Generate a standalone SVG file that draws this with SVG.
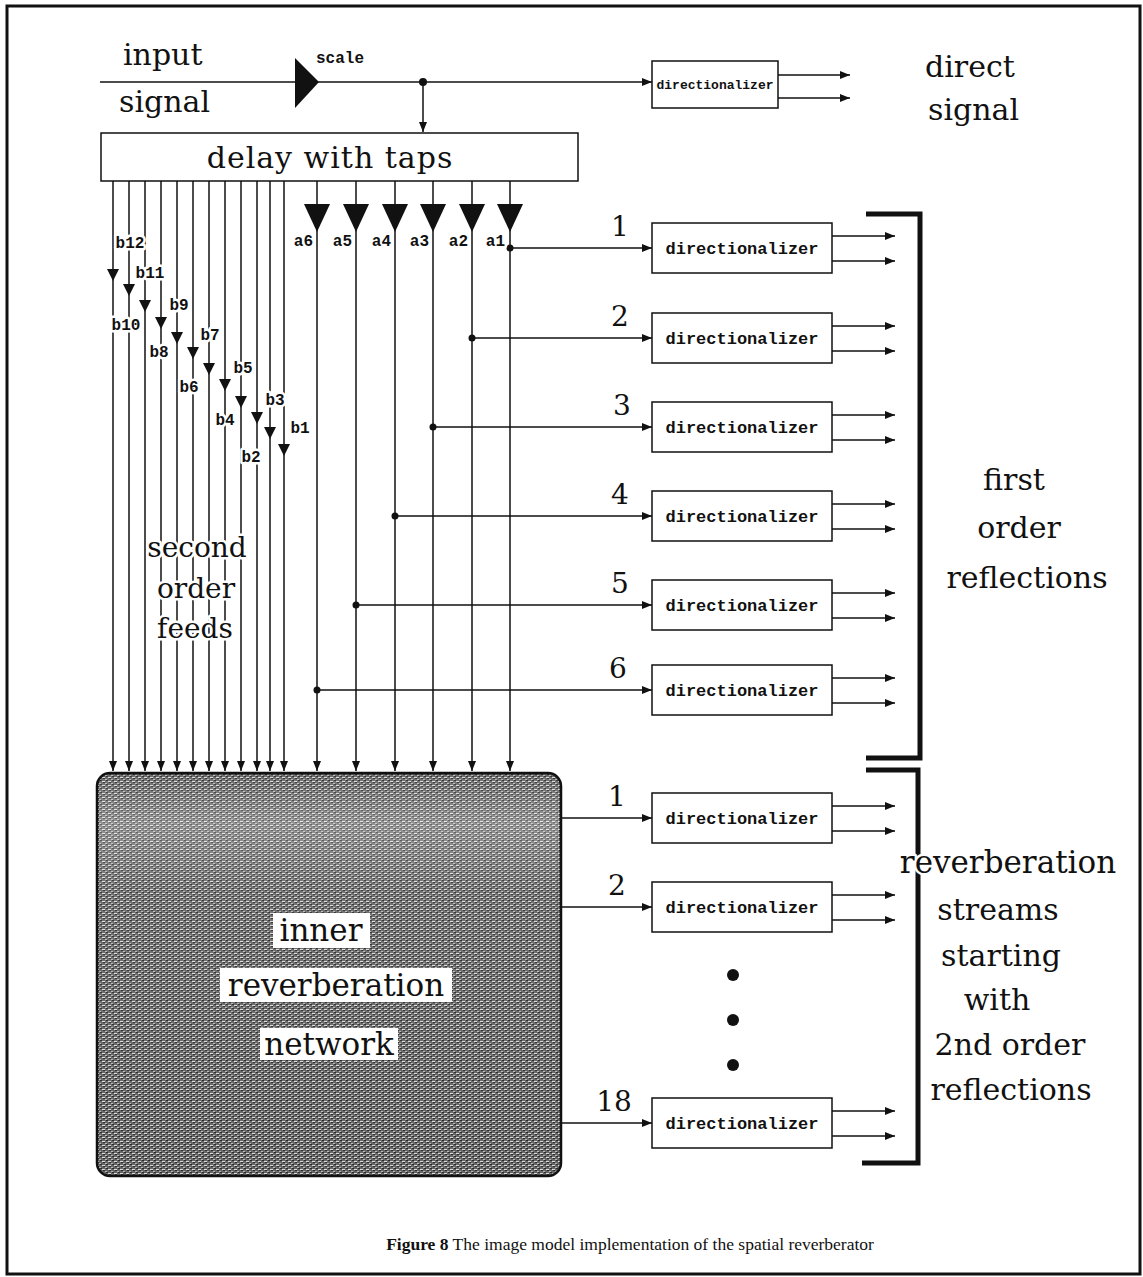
<svg xmlns="http://www.w3.org/2000/svg" width="1143" height="1277" viewBox="0 0 1143 1277">
<style>
.ln{stroke:#111;stroke-width:1.5;fill:none}
.arr{marker-end:url(#ah)}
.box{fill:#fff;stroke:#111;stroke-width:1.5}
.br{stroke:#111;stroke-width:5;fill:none}
.tri{fill:#111}
.serif{font-family:"DejaVu Serif",serif;font-size:30px;fill:#111}
.mid{text-anchor:middle}
.mono{font-family:"Liberation Mono",monospace;font-weight:bold;font-size:16px;fill:#111}
.dir{font-family:"Liberation Mono",monospace;font-weight:bold;font-size:17px;fill:#111;text-anchor:middle}
.halo{paint-order:stroke;stroke:#fff;stroke-width:5;stroke-linejoin:round}
.cap{font-family:"Liberation Serif",serif;font-size:17.5px;fill:#111;text-anchor:middle}
</style>
<defs>
<marker id="ah" viewBox="0 0 10 8" refX="10" refY="4" markerWidth="10" markerHeight="8" markerUnits="userSpaceOnUse" orient="auto"><path d="M0,0 L10,4 L0,8 Z" fill="#111"/></marker>
<pattern id="ht" width="6" height="4" patternUnits="userSpaceOnUse">
<rect width="6" height="4" fill="#666"/>
<rect x="0" y="1" width="3" height="1" fill="#dcdcdc"/>
<rect x="3" y="3" width="2" height="1" fill="#b8b8b8"/>
<rect x="4" y="0" width="2" height="1" fill="#2a2a2a"/>
<rect x="1" y="2" width="2" height="1" fill="#2a2a2a"/>
</pattern>
<linearGradient id="lg" x1="0" y1="0" x2="0" y2="1">
<stop offset="0" stop-color="#fff" stop-opacity="0.05"/>
<stop offset="0.12" stop-color="#fff" stop-opacity="0.3"/>
<stop offset="0.3" stop-color="#fff" stop-opacity="0.08"/>
<stop offset="1" stop-color="#fff" stop-opacity="0"/>
</linearGradient>
</defs>
<rect x="7" y="6" width="1133" height="1268" fill="#fff" stroke="#111" stroke-width="3"/>

<g id="connectors">
<path class="ln" d="M100,82 H296"/>
<path class="ln arr" d="M318,82 H652"/>
<path class="ln arr" d="M423,82 V132"/>
<path class="ln arr" d="M778,75 H850"/>
<path class="ln arr" d="M778,98 H850"/>
<path class="ln arr" d="M113,181 V771"/>
<path class="ln arr" d="M129,181 V771"/>
<path class="ln arr" d="M145,181 V771"/>
<path class="ln arr" d="M161,181 V771"/>
<path class="ln arr" d="M177,181 V771"/>
<path class="ln arr" d="M193,181 V771"/>
<path class="ln arr" d="M209,181 V771"/>
<path class="ln arr" d="M225,181 V771"/>
<path class="ln arr" d="M241,181 V771"/>
<path class="ln arr" d="M257,181 V771"/>
<path class="ln arr" d="M270,181 V771"/>
<path class="ln arr" d="M284,181 V771"/>
<path class="ln arr" d="M317,181 V771"/>
<path class="ln arr" d="M356,181 V771"/>
<path class="ln arr" d="M395,181 V771"/>
<path class="ln arr" d="M433,181 V771"/>
<path class="ln arr" d="M472,181 V771"/>
<path class="ln arr" d="M510,181 V771"/>
<path class="ln arr" d="M510,248 H652"/>
<path class="ln arr" d="M472,338 H652"/>
<path class="ln arr" d="M433,427 H652"/>
<path class="ln arr" d="M395,516 H652"/>
<path class="ln arr" d="M356,605 H652"/>
<path class="ln arr" d="M317,690 H652"/>
<path class="ln arr" d="M560,818 H652"/>
<path class="ln arr" d="M560,907 H652"/>
<path class="ln arr" d="M560,1123 H652"/>
<path class="ln arr" d="M832,236 H895"/>
<path class="ln arr" d="M832,261 H895"/>
<path class="ln arr" d="M832,326 H895"/>
<path class="ln arr" d="M832,351 H895"/>
<path class="ln arr" d="M832,415 H895"/>
<path class="ln arr" d="M832,440 H895"/>
<path class="ln arr" d="M832,504 H895"/>
<path class="ln arr" d="M832,529 H895"/>
<path class="ln arr" d="M832,593 H895"/>
<path class="ln arr" d="M832,618 H895"/>
<path class="ln arr" d="M832,678 H895"/>
<path class="ln arr" d="M832,703 H895"/>
<path class="ln arr" d="M832,806 H895"/>
<path class="ln arr" d="M832,831 H895"/>
<path class="ln arr" d="M832,895 H895"/>
<path class="ln arr" d="M832,920 H895"/>
<path class="ln arr" d="M832,1111 H895"/>
<path class="ln arr" d="M832,1136 H895"/>
<circle cx="423" cy="82" r="4" fill="#111"/>
<circle cx="510" cy="248" r="3.5" fill="#111"/>
<circle cx="472" cy="338" r="3.5" fill="#111"/>
<circle cx="433" cy="427" r="3.5" fill="#111"/>
<circle cx="395" cy="516" r="3.5" fill="#111"/>
<circle cx="356" cy="605" r="3.5" fill="#111"/>
<circle cx="317" cy="690" r="3.5" fill="#111"/>
</g>

<g id="input-label">
<text class="serif" x="123" y="65">input</text>
<text class="serif" x="119" y="112">signal</text>
</g>
<g id="scale">
<path class="tri" d="M295,58 L319,82 L295,108 Z"/>
<text class="mono" x="316" y="63">scale</text>
</g>
<g id="delay">
<rect class="box" x="101" y="133" width="477" height="48"/>
<text class="serif mid" x="330" y="168" letter-spacing="1">delay with taps</text>
</g>
<g id="dir-direct">
<rect class="box" x="652" y="61" width="126" height="47"/>
<text class="dir" x="715" y="89" style="font-size:13px">directionalizer</text>
</g>
<g id="direct-label">
<text class="serif" x="925" y="77">direct</text>
<text class="serif" x="928" y="120">signal</text>
</g>

<g id="gains-a">
<path class="tri" d="M304,204 H330 L317,232 Z"/>
<path class="tri" d="M343,204 H369 L356,232 Z"/>
<path class="tri" d="M382,204 H408 L395,232 Z"/>
<path class="tri" d="M420,204 H446 L433,232 Z"/>
<path class="tri" d="M459,204 H485 L472,232 Z"/>
<path class="tri" d="M497,204 H523 L510,232 Z"/>
<text class="mono halo" x="313" y="246" text-anchor="end">a6</text>
<text class="mono halo" x="352" y="246" text-anchor="end">a5</text>
<text class="mono halo" x="391" y="246" text-anchor="end">a4</text>
<text class="mono halo" x="429" y="246" text-anchor="end">a3</text>
<text class="mono halo" x="468" y="246" text-anchor="end">a2</text>
<text class="mono halo" x="505" y="246" text-anchor="end">a1</text>
</g>

<g id="gains-b">
<path class="tri" d="M107,269 H119 L113,281 Z"/>
<path class="tri" d="M123,284 H135 L129,296 Z"/>
<path class="tri" d="M139,300 H151 L145,312 Z"/>
<path class="tri" d="M155,317 H167 L161,329 Z"/>
<path class="tri" d="M171,332 H183 L177,344 Z"/>
<path class="tri" d="M187,347 H199 L193,359 Z"/>
<path class="tri" d="M203,363 H215 L209,375 Z"/>
<path class="tri" d="M219,379 H231 L225,391 Z"/>
<path class="tri" d="M235,396 H247 L241,408 Z"/>
<path class="tri" d="M251,412 H263 L257,424 Z"/>
<path class="tri" d="M264,427 H276 L270,439 Z"/>
<path class="tri" d="M278,444 H290 L284,456 Z"/>
<text class="mono halo mid" x="130" y="248">b12</text>
<text class="mono halo mid" x="150" y="278">b11</text>
<text class="mono halo mid" x="126" y="330">b10</text>
<text class="mono halo mid" x="179" y="310">b9</text>
<text class="mono halo mid" x="159" y="357">b8</text>
<text class="mono halo mid" x="210" y="340">b7</text>
<text class="mono halo mid" x="189" y="392">b6</text>
<text class="mono halo mid" x="243" y="373">b5</text>
<text class="mono halo mid" x="225" y="425">b4</text>
<text class="mono halo mid" x="275" y="405">b3</text>
<text class="mono halo mid" x="251" y="462">b2</text>
<text class="mono halo mid" x="300" y="433">b1</text>
</g>

<g id="second-order-label">
<text class="serif mid halo" x="197" y="557" style="font-size:28px">second</text>
<text class="serif mid halo" x="196" y="598" style="font-size:28px">order</text>
<text class="serif mid halo" x="195" y="638" style="font-size:28px">feeds</text>
</g>

<g id="first-order">
<text class="serif mid" x="620" y="236" style="font-size:28px">1</text>
<rect class="box" x="652" y="223" width="180" height="50"/>
<text class="dir" x="742" y="254">directionalizer</text>
<text class="serif mid" x="620" y="326" style="font-size:28px">2</text>
<rect class="box" x="652" y="313" width="180" height="50"/>
<text class="dir" x="742" y="344">directionalizer</text>
<text class="serif mid" x="622" y="415" style="font-size:28px">3</text>
<rect class="box" x="652" y="402" width="180" height="50"/>
<text class="dir" x="742" y="433">directionalizer</text>
<text class="serif mid" x="620" y="504" style="font-size:28px">4</text>
<rect class="box" x="652" y="491" width="180" height="50"/>
<text class="dir" x="742" y="522">directionalizer</text>
<text class="serif mid" x="620" y="593" style="font-size:28px">5</text>
<rect class="box" x="652" y="580" width="180" height="50"/>
<text class="dir" x="742" y="611">directionalizer</text>
<text class="serif mid" x="618" y="678" style="font-size:28px">6</text>
<rect class="box" x="652" y="665" width="180" height="50"/>
<text class="dir" x="742" y="696">directionalizer</text>
</g>

<g id="network">
<rect x="97" y="773" width="464" height="403" rx="13" fill="url(#ht)" stroke="#111" stroke-width="2.5"/>
<rect x="99" y="775" width="460" height="399" rx="12" fill="url(#lg)"/>
<rect x="273" y="913" width="97" height="35" fill="#fff"/>
<text class="serif mid" x="321" y="941" style="font-size:31px">inner</text>
<rect x="220" y="968" width="232" height="34" fill="#fff"/>
<text class="serif mid" x="336" y="996" style="font-size:31px">reverberation</text>
<rect x="260" y="1028" width="138" height="32" fill="#fff"/>
<text class="serif mid" x="329" y="1055" style="font-size:31px">network</text>
</g>

<g id="reverb-streams">
<text class="serif mid" x="617" y="806" style="font-size:28px">1</text>
<rect class="box" x="652" y="793" width="180" height="50"/>
<text class="dir" x="742" y="824">directionalizer</text>
<text class="serif mid" x="617" y="895" style="font-size:28px">2</text>
<rect class="box" x="652" y="882" width="180" height="50"/>
<text class="dir" x="742" y="913">directionalizer</text>
<circle cx="733" cy="975" r="6" fill="#111"/>
<circle cx="733" cy="1020" r="6" fill="#111"/>
<circle cx="733" cy="1065" r="6" fill="#111"/>
<text class="serif mid" x="614" y="1111" style="font-size:28px">18</text>
<rect class="box" x="652" y="1098" width="180" height="50"/>
<text class="dir" x="742" y="1129">directionalizer</text>
</g>

<g id="bracket-first">
<path class="br" d="M866,214 H920 V758 H866"/>
<text class="serif mid" x="1014" y="490">first</text>
<text class="serif mid" x="1019" y="538">order</text>
<text class="serif mid" x="1027" y="588">reflections</text>
</g>
<g id="bracket-reverb">
<path class="br" d="M866,770 H918 V1163 H862"/>
<text class="serif mid halo" x="1008" y="873" style="font-size:31px">reverberation</text>
<text class="serif mid" x="998" y="920">streams</text>
<text class="serif mid" x="1001" y="966">starting</text>
<text class="serif mid" x="997" y="1010">with</text>
<text class="serif mid" x="1010" y="1055">2nd order</text>
<text class="serif mid" x="1011" y="1100">reflections</text>
</g>

<g id="caption">
<text class="cap" x="630" y="1250"><tspan font-weight="bold">Figure 8</tspan> The image model implementation of the spatial reverberator</text>
</g>
</svg>
